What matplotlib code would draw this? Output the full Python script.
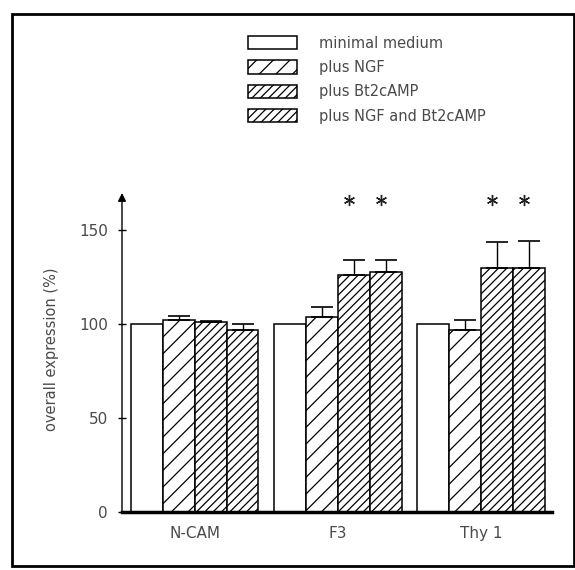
import numpy as np
import matplotlib.pyplot as plt
from matplotlib.patches import Rectangle, Patch

plt.rcParams['font.family'] = ['DejaVu Sans']
plt.rcParams['hatch.linewidth'] = 0.9

# --- data ---
groups = ['N-CAM', 'F3', 'Thy 1']
conditions = ['minimal medium', 'plus NGF', 'plus Bt2cAMP', 'plus NGF and Bt2cAMP']
values = {
    'minimal medium': [100, 100, 100],
    'plus NGF': [102, 104, 97],
    'plus Bt2cAMP': [101, 126, 130],
    'plus NGF and Bt2cAMP': [97, 128, 130],
}
errors = {
    'minimal medium': [0, 0, 0],
    'plus NGF': [2.5, 5, 5],
    'plus Bt2cAMP': [0.5, 8, 14],
    'plus NGF and Bt2cAMP': [3, 6, 14.5],
}
# significance marks: (group index, condition index)
stars = [(1, 2), (1, 3), (2, 2), (2, 3)]
star_level = 166

hatches = ['', '//', '////', '////']
text_col = '#4a4a4a'

fig = plt.figure(figsize=(5.75, 5.70), dpi=100)
W, H = 575, 570
ax = fig.add_axes([122 / W, 1 - 511.7 / H, (552 - 122) / W, (511.7 - 193) / H])

group_x = np.arange(len(groups)) * 4.5
bw = 1.0
for i, cond in enumerate(conditions):
    xs = group_x + (i - 1.5) * bw
    ax.bar(xs, values[cond], width=bw, facecolor='white', edgecolor='black',
           linewidth=1.1, hatch=hatches[i], zorder=2)
    if i > 0:
        ax.errorbar(xs, values[cond], yerr=[np.zeros(len(groups)), errors[cond]],
                    fmt='none', ecolor='black', elinewidth=1.0, capsize=8,
                    capthick=1.2, zorder=3)

for g, c in stars:
    ax.plot(group_x[g] + (c - 1.5) * bw - 0.15, star_level, marker=(6, 2, 0),
            markersize=8, color='#222222', mew=1.0, zorder=3)

ax.set_xlim(-2.29, 11.23)
ax.set_ylim(0, 170)
ax.set_yticks([0, 50, 100, 150])
ax.set_xticks(group_x)
ax.set_xticklabels(groups)
ax.tick_params(axis='y', direction='inout', length=6, width=1, pad=7,
               labelsize=11, labelcolor=text_col)
ax.tick_params(axis='x', length=0, pad=10, labelsize=11, labelcolor=text_col)

for s in ['top', 'right', 'left']:
    ax.spines[s].set_visible(False)
ax.spines['bottom'].set_linewidth(2.5)
ax.annotate('', xy=(0, 1.0), xytext=(0, 0), xycoords='axes fraction',
            arrowprops=dict(arrowstyle='-|>', color='black', lw=1.0,
                            mutation_scale=12, shrinkA=0, shrinkB=0))

fig.text(52 / W, 1 - 349 / H, 'overall expression (%)', rotation=90,
         ha='center', va='center', fontsize=10.5, color=text_col)

handles = [Patch(facecolor='white', edgecolor='black', hatch=hatches[i], linewidth=1.1)
           for i in range(len(conditions))]
fig.legend(handles, conditions, loc='upper left',
           bbox_to_anchor=(248 / W, 1 - 35.5 / H), frameon=False, fontsize=10.5,
           handlelength=3.35, handleheight=1.0, labelspacing=0.65,
           handletextpad=1.55, borderpad=0, borderaxespad=0, labelcolor=text_col)

# outer frame of the figure panel
fig.patches.append(Rectangle((12 / W, 1 - 566 / H), (574 - 12) / W, (566 - 14) / H,
                             transform=fig.transFigure, fill=False,
                             edgecolor='black', linewidth=2))

fig.savefig('out.png', dpi=100)
